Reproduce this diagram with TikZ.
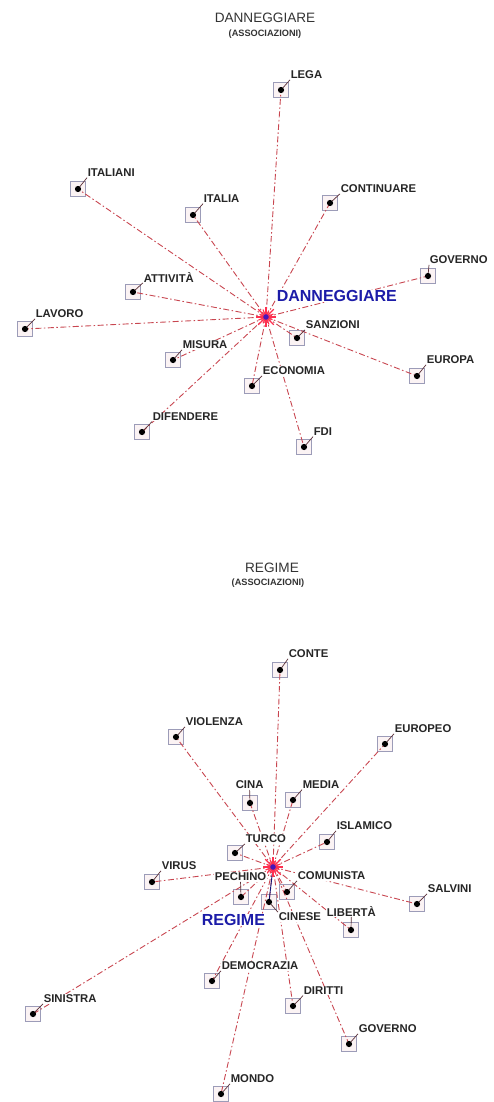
\documentclass[tikz,border=0pt]{standalone}
\usepackage{fontspec}
\setmainfont{Liberation Sans}
\definecolor{linkred}{HTML}{C84650}
\definecolor{boxgray}{HTML}{9C9CB8}
\definecolor{boxfill}{HTML}{FBF3F4}
\definecolor{hubblue}{HTML}{1C1CA8}
\definecolor{burstred}{HTML}{FF3050}
\definecolor{burstpink}{HTML}{FF90A0}
\definecolor{titlegray}{HTML}{333333}
\definecolor{leadcol}{HTML}{5A3038}
\begin{document}
\begin{tikzpicture}[x=1pt,y=-1pt,
  link/.style={draw=linkred, line width=0.9pt, dash pattern=on 6pt off 2.5pt on 1.5pt off 2.5pt},
  word/.style={draw=boxgray, fill=boxfill, minimum size=15pt, inner sep=0pt, line width=0.6pt},
  lab/.style={font=\fontsize{11.3}{13}\selectfont\bfseries, fill=white, inner sep=0.6pt, anchor=west, text=black!85},
  hub/.style={font=\fontsize{16}{18}\selectfont\bfseries, text=hubblue, fill=white, inner sep=0.6pt, anchor=west},
  ttl/.style={font=\fontsize{13.6}{15}\selectfont, text=titlegray},
  sub/.style={font=\fontsize{9.2}{10}\selectfont\bfseries, text=titlegray},
  leader/.style={draw=leadcol, line width=0.7pt},
  burst/.style={draw=burstred, line width=1.1pt},
]
\useasboundingbox (0,0) rectangle (493,1102);

% word lists: name / box x / box y / text / label x / label y / leader anchor
\def\toplist{tlega/281/90/LEGA/290/75/south west,
  titaliani/78/189/ITALIANI/87/173/south west,
  titalia/193/215/ITALIA/203/199/south west,
  tcont/330/203/CONTINUARE/340/189/south west,
  tgov/428/276/GOVERNO/429/260/south west,
  tatt/133/292/ATTIVITÀ/143/277/south west,
  tlav/25/329/LAVORO/35/314/south west,
  tsanz/297/338/SANZIONI/305/325/south west,
  tmis/173/360/MISURA/182/345/south west,
  teco/252/386/ECONOMIA/262/371/south west,
  tdif/142/432/DIFENDERE/152/417/south west,
  tfdi/304/447/FDI/313/432/south west,
  teur/417/376/EUROPA/426/360/south west}
\def\botlist{bconte/280/670/CONTE/288/654/south west,
  bviol/176/737/VIOLENZA/185/722/south west,
  beuro/385/744/EUROPEO/394/729/south west,
  bcina/250/803/CINA/235/785/south,
  bmedia/293/800/MEDIA/302/785/south west,
  bturco/235/853/TURCO/245/839/south west,
  bisl/327/842/ISLAMICO/336/826/south west,
  bvirus/152/882/VIRUS/161/866/south west,
  bpech/241/897/PECHINO/214/877/south,
  bcom/287/892/COMUNISTA/297/876/south west,
  bsalv/417/904/SALVINI/427/889/south west,
  bcin/269/902/CINESE/278/917/north west,
  blib/351/930/LIBERTÀ/326/911/south,
  bdem/212/981/DEMOCRAZIA/221/966/south west,
  bsin/33/1014/SINISTRA/43/999/south west,
  bdir/293/1006/DIRITTI/303/991/south west,
  bgov/349/1044/GOVERNO/358/1029/south west,
  bmondo/221/1094/MONDO/230/1079/south west}

% titles
\node[ttl] (t1) at (265,18) {DANNEGGIARE};
\node[sub] (s1) at (265,34) {(ASSOCIAZIONI)};
\node[ttl] (t2) at (272,568) {REGIME};
\node[sub] (s2) at (268,583) {(ASSOCIAZIONI)};

% hubs
\coordinate (dc) at (266,317);
\coordinate (rc) at (273,867);

% boxes
\foreach \n/\x/\y/\t/\lx/\ly/\an in \toplist {\node[word] (\n) at (\x,\y) {};}
\foreach \n/\x/\y/\t/\lx/\ly/\an in \botlist {\node[word] (\n) at (\x,\y) {};}

% association links
\foreach \n/\x/\y/\t/\lx/\ly/\an in \toplist {\draw[link] (dc) -- (\n.center);}
\foreach \n/\x/\y/\t/\lx/\ly/\an in \botlist {\draw[link] (rc) -- (\n.center);}
\draw[draw=hubblue!70!black, line width=0.9pt] (rc) -- (bcin.center);

% hub bursts
\foreach \c in {dc,rc} {
  \fill[burstpink, opacity=0.8] (\c) circle (5.5);
  \foreach \a/\r in {0/10,22/7,45/11,68/8,90/10,115/7,135/11,158/8,180/10,203/7,225/11,248/8,270/10,293/7,315/11,338/8}
    \draw[burst] (\c) -- ++(\a:\r);
  \fill[hubblue!80!magenta] (\c) circle (2.8);
}

% labels, leaders and dots
\foreach \n/\x/\y/\t/\lx/\ly/\an in \toplist {
  \node[lab] (\n-l) at (\lx,\ly) {\t};
  \draw[leader] (\n.center) -- (\n-l.\an);
  \fill (\n.center) circle (3.1);
}
\foreach \n/\x/\y/\t/\lx/\ly/\an in \botlist {
  \node[lab] (\n-l) at (\lx,\ly) {\t};
  \draw[leader] (\n.center) -- (\n-l.\an);
  \fill (\n.center) circle (3.1);
}

% hub labels
\node[hub] (dlab) at (276,296) {DANNEGGIARE};
\node[hub] (rlab) at (201,920) {REGIME};
\end{tikzpicture}
\end{document}
